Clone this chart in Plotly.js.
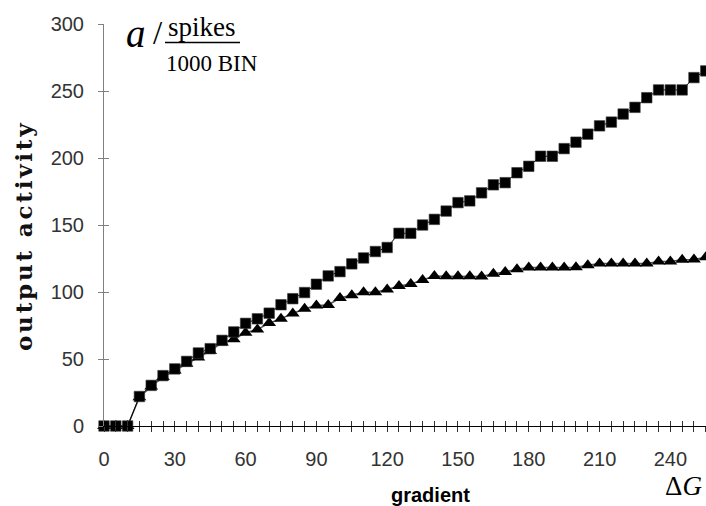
<!DOCTYPE html>
<html>
<head>
<meta charset="utf-8">
<script src="https://cdn.plot.ly/plotly-3.0.1.min.js"></script>
<style>
  html, body { margin: 0; padding: 0; background: #fff; }
  #chart { width: 706px; height: 506px; }
  /* widen the rotated y title */
  g.annotation[data-index="0"] text { letter-spacing: 2.8px; }
</style>
</head>
<body>
<div id="chart"></div>
<script>
// gradient values (ΔG)
const gradient = [0, 5, 10, 15, 20, 25, 30, 35, 40, 45,
                  50, 55, 60, 65, 70, 75, 80, 85, 90, 95,
                  100, 105, 110, 115, 120, 125, 130, 135, 140, 145,
                  150, 155, 160, 165, 170, 175, 180, 185, 190, 195,
                  200, 205, 210, 215, 220, 225, 230, 235, 240, 245,
                  250, 255];

// output activity, square series
const activitySquares = [0, 0, 0, 22, 30.3, 37.6, 42.6, 48.2, 54.5, 57.7,
                         63.9, 70.2, 76.6, 80, 84.2, 90.5, 95, 99.6, 105.8, 112,
                         115.2, 121, 125.4, 130.2, 133.2, 143.8, 143.8, 150, 154.2, 160.4,
                         166.7, 168, 174, 180, 181.6, 189, 193.8, 201.3, 201.3, 207,
                         211.8, 217.8, 224, 226.8, 232.8, 237.8, 245, 250.8, 250.8, 250.8,
                         260, 265];

// output activity, triangle series
const activityTriangles = [0, 0, 0, 21.5, 29.5, 36.5, 41.5, 46.5, 51.2, 56,
                           62.3, 64.8, 69.6, 72, 76.8, 80, 84, 87.5, 90, 90.3,
                           95.5, 97.5, 99.8, 99.8, 101.8, 104.5, 106, 109, 112, 111.8,
                           111.8, 111.8, 111.5, 113.7, 115, 117, 118.2, 118.2, 118.2, 118.3,
                           118.4, 120, 121.2, 121.2, 121.2, 121.2, 121.2, 122.8, 122.8, 124,
                           124.3, 126];

const xTickValues = [0, 30, 60, 90, 120, 150, 180, 210, 240];
const yTickValues = [0, 50, 100, 150, 200, 250, 300];

const xRange = [0, 255.1];
const yRange = [0, 300];

const tickFont = { family: 'Liberation Sans, Arial, sans-serif', size: 20, color: '#333333' };

const traces = [
  {
    x: gradient, y: activityTriangles,
    type: 'scatter', mode: 'lines+markers',
    line: { color: '#555555', width: 1.5 },
    marker: { symbol: 'triangle-up', size: 12, color: '#000000' },
    cliponaxis: false, showlegend: false, hoverinfo: 'skip'
  },
  {
    x: gradient, y: activitySquares,
    type: 'scatter', mode: 'lines+markers',
    line: { color: '#000000', width: 1 },
    marker: { symbol: 'square', size: 10.5, color: '#000000', line: { color: '#3a3a3a', width: 0.6 } },
    cliponaxis: false, showlegend: false, hoverinfo: 'skip'
  },
  // empty trace carrying the overlay axes that give the inner halves of the ticks
  { x: [], y: [], xaxis: 'x2', yaxis: 'y2', type: 'scatter', mode: 'markers', showlegend: false, hoverinfo: 'skip' }
];

const layout = {
  width: 706, height: 506,
  margin: { l: 104, r: 0, t: 24, b: 80, pad: 0 },
  paper_bgcolor: '#ffffff', plot_bgcolor: '#ffffff',
  xaxis: {
    range: xRange, tickmode: 'array', tickvals: xTickValues,
    ticks: 'outside', ticklen: 5, tickwidth: 1, tickcolor: '#333333',
    minor: { dtick: 5, ticks: 'outside', ticklen: 5, tickwidth: 1, tickcolor: '#333333', showgrid: false },
    showline: true, linecolor: '#000000', linewidth: 1,
    showgrid: false, zeroline: false, tickfont: tickFont, ticklabelstandoff: 10
  },
  yaxis: {
    range: yRange, tickmode: 'array', tickvals: yTickValues,
    ticks: 'outside', ticklen: 5, tickwidth: 1, tickcolor: '#808080',
    showline: true, linecolor: '#808080', linewidth: 1,
    showgrid: false, zeroline: false, tickfont: tickFont, ticklabelstandoff: 10
  },
  xaxis2: {
    overlaying: 'x', anchor: 'y2', range: xRange, dtick: 5, tick0: 0,
    ticks: 'inside', ticklen: 5, tickwidth: 1, tickcolor: '#333333',
    showticklabels: false, showline: false, showgrid: false, zeroline: false
  },
  yaxis2: {
    overlaying: 'y', anchor: 'x2', range: yRange, dtick: 50, tick0: 0,
    ticks: 'inside', ticklen: 5, tickwidth: 1, tickcolor: '#808080',
    showticklabels: false, showline: false, showgrid: false, zeroline: false
  },
  annotations: [
    { text: '<b>output activity</b>', textangle: -90, xref: 'paper', yref: 'paper',
      x: -0.1346, y: 0.475, xanchor: 'center', yanchor: 'middle', showarrow: false,
      font: { family: 'DejaVu Serif, serif', size: 23, color: '#111111' } },
    { text: '<b>gradient</b>', xref: 'paper', yref: 'paper',
      x: 0.543, y: -0.1716, xanchor: 'center', yanchor: 'middle', showarrow: false,
      font: { family: 'Liberation Sans, Arial, sans-serif', size: 20, color: '#000000' } },
    { text: 'Δ<i>G</i>', xref: 'paper', yref: 'paper',
      x: 0.962, y: -0.149, xanchor: 'center', yanchor: 'middle', showarrow: false,
      font: { family: 'Liberation Serif, Times New Roman, serif', size: 27, color: '#000000' } },
    { text: '<i>a</i>', xref: 'paper', yref: 'paper',
      x: 0.053, y: 0.977, xanchor: 'center', yanchor: 'middle', showarrow: false,
      font: { family: 'Liberation Serif, Times New Roman, serif', size: 39, color: '#000000' } },
    { text: '/', xref: 'paper', yref: 'paper',
      x: 0.0889, y: 0.978, xanchor: 'center', yanchor: 'middle', showarrow: false,
      font: { family: 'Liberation Serif, Times New Roman, serif', size: 33, color: '#000000' } },
    { text: 'spikes', xref: 'paper', yref: 'paper',
      x: 0.162, y: 0.993, xanchor: 'center', yanchor: 'middle', showarrow: false,
      font: { family: 'Liberation Serif, Times New Roman, serif', size: 27, color: '#000000' } },
    { text: '1000 BIN', xref: 'paper', yref: 'paper',
      x: 0.180, y: 0.902, xanchor: 'center', yanchor: 'middle', showarrow: false,
      font: { family: 'Liberation Serif, Times New Roman, serif', size: 23, color: '#000000' } }
  ],
  shapes: [
    // fraction bar of the unit label
    { type: 'line', xref: 'paper', yref: 'paper', x0: 0.1013, x1: 0.2259, y0: 0.954, y1: 0.954,
      line: { color: '#000000', width: 1.6 } }
  ]
};

Plotly.newPlot('chart', traces, layout, { staticPlot: true, displayModeBar: false });
</script>
</body>
</html>
